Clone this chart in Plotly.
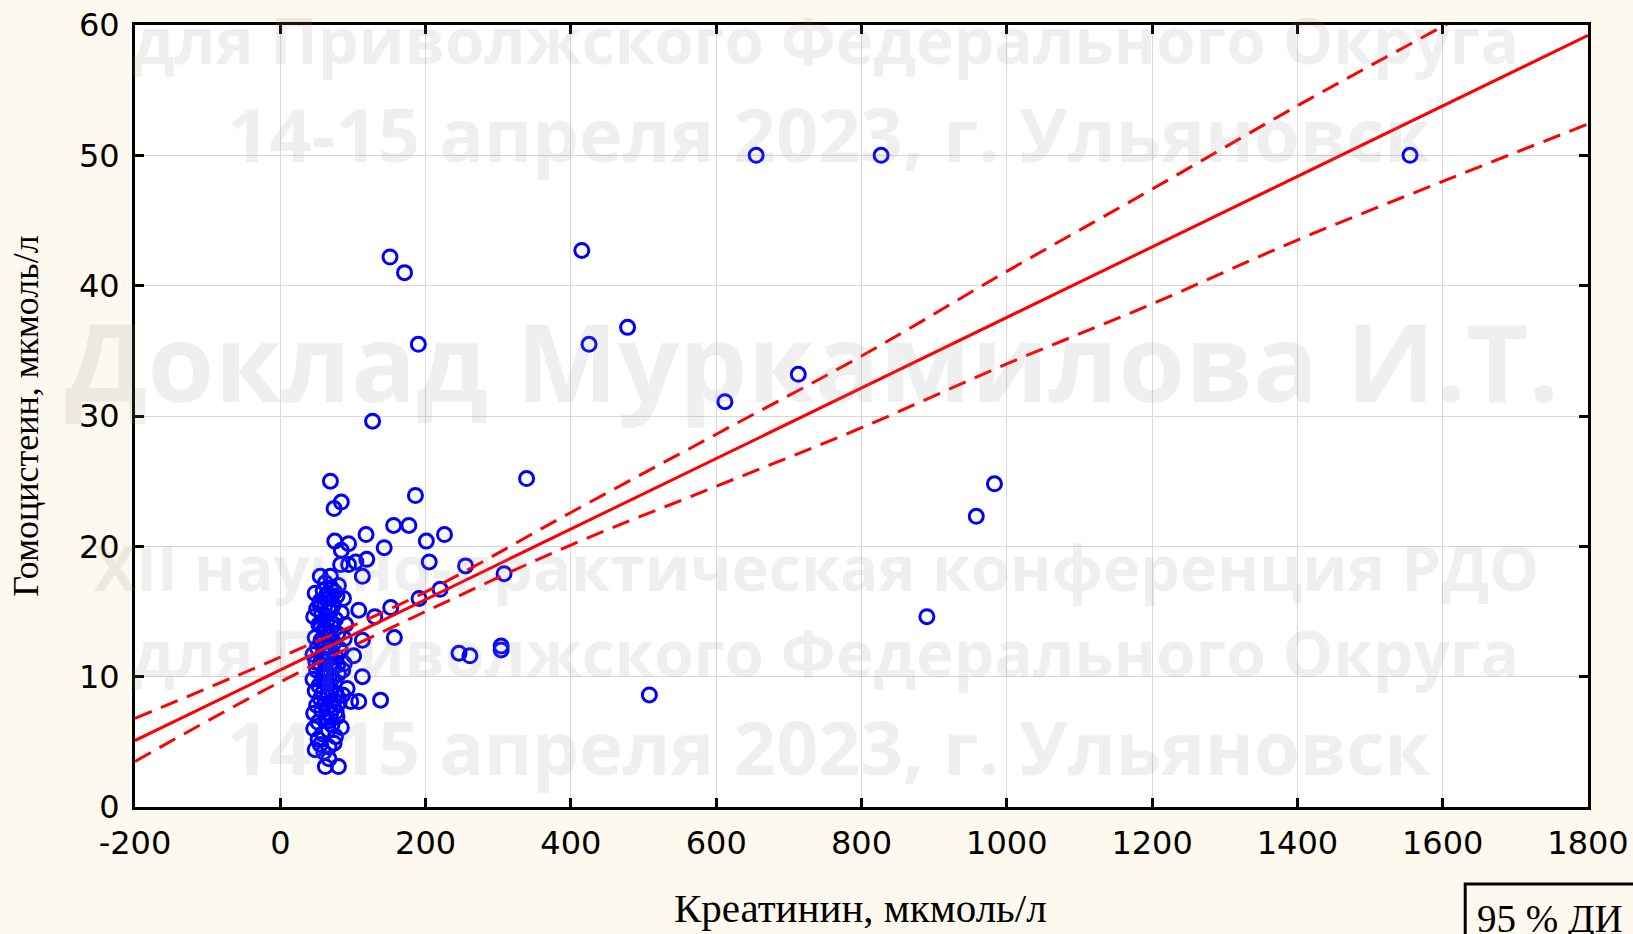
import plotly.graph_objects as go

# ---------------- data ----------------
# Scatter: креатинин (x) vs гомоцистеин (y)
outlier_x = [655, 827, 1555, 151, 171, 415, 190, 425, 478, 713, 612, 127, 339, 983, 958, 890, 508,
             308, 255, 246, 261, 304, 304, 186, 156, 177, 226, 201, 118, 143, 119, 104, 205, 113,
             220, 191, 152, 108, 130, 157, 113, 101, 113, 108, 138, 97, 92]
outlier_y = [50, 50, 50, 42.2, 41, 42.7, 35.5, 35.5, 36.8, 33.2, 31.1, 29.6, 25.2, 24.8, 22.3, 14.6, 8.6,
             17.9, 18.5, 11.8, 11.6, 12.35, 12.05, 23.9, 21.6, 21.6, 20.9, 20.4, 20.9, 19.9, 19.0, 18.8, 18.8, 17.7,
             16.7, 16.0, 15.3, 15.1, 14.6, 13.0, 12.8, 11.6, 10.0, 8.1, 8.2, 8.1, 9.1]

cluster_x = [62, 80, 67, 48, 60, 74, 55,
             76, 46, 58, 66, 71, 52, 84, 63, 78, 46, 57, 69,
             50, 61, 73, 81, 55, 66, 77, 48, 59, 70, 86,
             53, 64, 75, 45, 58, 68, 80, 50, 62, 73, 86, 55,
             45, 66, 77, 59, 70, 51, 82, 63, 74, 56, 48, 67, 88, 79,
             60, 71, 53, 64, 76, 46, 57, 68, 84, 50, 61, 73,
             55, 66, 78, 48, 59, 70, 62, 80, 55, 69, 75,
             69, 84, 74, 75, 94, 84, 94, 83, 88, 90, 87,
             52, 65, 72, 57, 68, 79, 63, 54, 71, 60, 66, 58, 74, 49, 64, 77, 61, 56, 70, 67]
cluster_y = [3.1, 3.1, 3.7, 4.4, 4.2, 4.9, 4.8,
             5.4, 6.0, 5.6, 5.9, 6.3, 6.5, 6.1, 6.8, 6.9, 7.2, 7.4, 7.1,
             7.8, 7.9, 7.6, 8.0, 8.3, 8.5, 8.7, 8.9, 8.8, 9.0, 8.6,
             9.3, 9.4, 9.6, 9.8, 10.0, 10.1, 10.2, 10.5, 10.6, 10.8, 10.5, 11.0,
             11.7, 11.3, 11.5, 11.8, 12.0, 12.2, 12.1, 12.4, 12.6, 12.8, 13.0, 13.1, 12.9, 13.3,
             13.6, 13.8, 14.0, 14.2, 14.4, 14.6, 14.8, 15.0, 14.9, 15.2, 15.4, 15.5,
             15.8, 16.0, 16.2, 16.4, 16.6, 16.8, 17.2, 17.0, 17.7, 17.7, 16.5,
             25.0, 23.4, 22.9, 20.4, 20.2, 19.7, 18.6, 18.6, 11.0, 14.0, 16.0,
             5.2, 7.6, 9.9, 11.4, 12.3, 10.9, 13.5, 15.6, 14.1, 9.6, 6.6, 12.6, 8.2, 11.1, 16.3, 7.3, 10.3, 13.9, 15.1, 4.6]

point_x = outlier_x + cluster_x
point_y = outlier_y + cluster_y

# Linear fit and its 95 % confidence band (values read at each grid line)
fit_x = [-200, 1800]
fit_y = [5.1, 59.2]
ci_x = [-200, 0, 200, 400, 600, 800, 1000, 1200, 1400, 1600, 1800]
ci_upper = [6.8, 11.5, 16.5, 22.6, 28.6, 34.6, 41.1, 47.4, 53.8, 59.9, 66.0]
ci_lower = [3.5, 9.6, 15.0, 20.1, 24.6, 29.1, 34.0, 38.6, 43.5, 48.0, 52.4]

x_ticks = [-200, 0, 200, 400, 600, 800, 1000, 1200, 1400, 1600, 1800]
y_ticks = [0, 10, 20, 30, 40, 50, 60]

x_title = "Креатинин, мкмоль/л"
y_title = "Гомоцистеин, мкмоль/л"
legend_text = "95 % ДИ"
watermark_lines = [
    ("для Приволжского Федерального Округа", 0.981, 0.475, 64),
    ("14-15 апреля 2023, г. Ульяновск", 0.861, 0.477, 74),
    ("Доклад Муркамилова И.Т.", 0.571, 0.466, 108),
    ("XII научно-практическая конференция РДО", 0.307, 0.469, 63),
    ("для Приволжского Федерального Округа", 0.198, 0.475, 64),
    ("14-15 апреля 2023, г. Ульяновск", 0.077, 0.477, 74),
]

# ---------------- figure ----------------
RED = "#FF0000"
BLUE = "#0000FF"
PAPER = "#FEF9EE"

fig = go.Figure()
fig.add_trace(go.Scatter(
    x=point_x, y=point_y, mode="markers",
    marker=dict(symbol="circle-open", size=14, color=BLUE, line=dict(width=3, color=BLUE)),
    showlegend=False, cliponaxis=True))
fig.add_trace(go.Scatter(x=ci_x, y=ci_upper, mode="lines", line_shape="spline",
                         line=dict(color=RED, width=3, dash="18px,10px"), showlegend=False))
fig.add_trace(go.Scatter(x=ci_x, y=ci_lower, mode="lines", line_shape="spline",
                         line=dict(color=RED, width=3, dash="18px,10px"), showlegend=False))
fig.add_trace(go.Scatter(x=fit_x, y=fit_y, mode="lines",
                         line=dict(color=RED, width=3), showlegend=False))

axis_common = dict(
    showline=True, linecolor="black", linewidth=3, mirror="ticks",
    ticks="inside", ticklen=9, tickwidth=3, tickcolor="black",
    showgrid=True, gridcolor="#D8D8D8", gridwidth=1, zeroline=False,
    tickfont=dict(family="DejaVu Sans", size=32, color="black"),
    automargin=False, ticklabeloverflow="allow",
)
fig.update_xaxes(range=[-200, 1800], tickvals=x_ticks, ticktext=[str(v) for v in x_ticks],
                 ticklabelstandoff=6, **axis_common)
fig.update_yaxes(range=[0, 60], tickvals=y_ticks, ticktext=[str(v) for v in y_ticks],
                 ticklabelstandoff=6, **axis_common)

annotations = []
annotations.append(dict(text=x_title, xref="paper", yref="paper", x=0.499, y=-0.129,
                        xanchor="center", yanchor="middle", showarrow=False,
                        font=dict(family="Liberation Serif", size=41, color="black")))
annotations.append(dict(text=y_title, xref="paper", yref="paper", x=-0.075, y=0.499,
                        xanchor="center", yanchor="middle", showarrow=False, textangle=-90,
                        font=dict(family="Liberation Serif", size=36, color="black")))
annotations.append(dict(text=legend_text, xref="paper", yref="paper", x=0.922, y=-0.143,
                        xanchor="left", yanchor="middle", showarrow=False,
                        font=dict(family="Liberation Serif", size=39, color="black")))
for txt, yy, xx, fs in watermark_lines:
    annotations.append(dict(text="<b>" + txt + "</b>", xref="paper", yref="paper", x=xx, y=yy,
                            xanchor="center", yanchor="middle", showarrow=False,
                            font=dict(family="Open Sans", size=fs, color="rgba(140,140,140,0.14)")))

shapes = [dict(type="rect", xref="paper", yref="paper", x0=0.9155, x1=1.05, y0=-0.17, y1=-0.0985,
               line=dict(color="black", width=3), fillcolor="rgba(0,0,0,0)", layer="above")]

fig.update_layout(
    width=1633, height=934,
    margin=dict(l=135, r=45, t=25, b=127),
    paper_bgcolor=PAPER, plot_bgcolor="white",
    annotations=annotations, shapes=shapes, showlegend=False,
)

fig.write_html(
    "out.html",
    config={"displayModeBar": False},
    post_script="document.body.style.margin='0';document.body.style.padding='0';"
                "document.body.style.overflow='hidden';document.body.style.background='" + PAPER + "';",
)
